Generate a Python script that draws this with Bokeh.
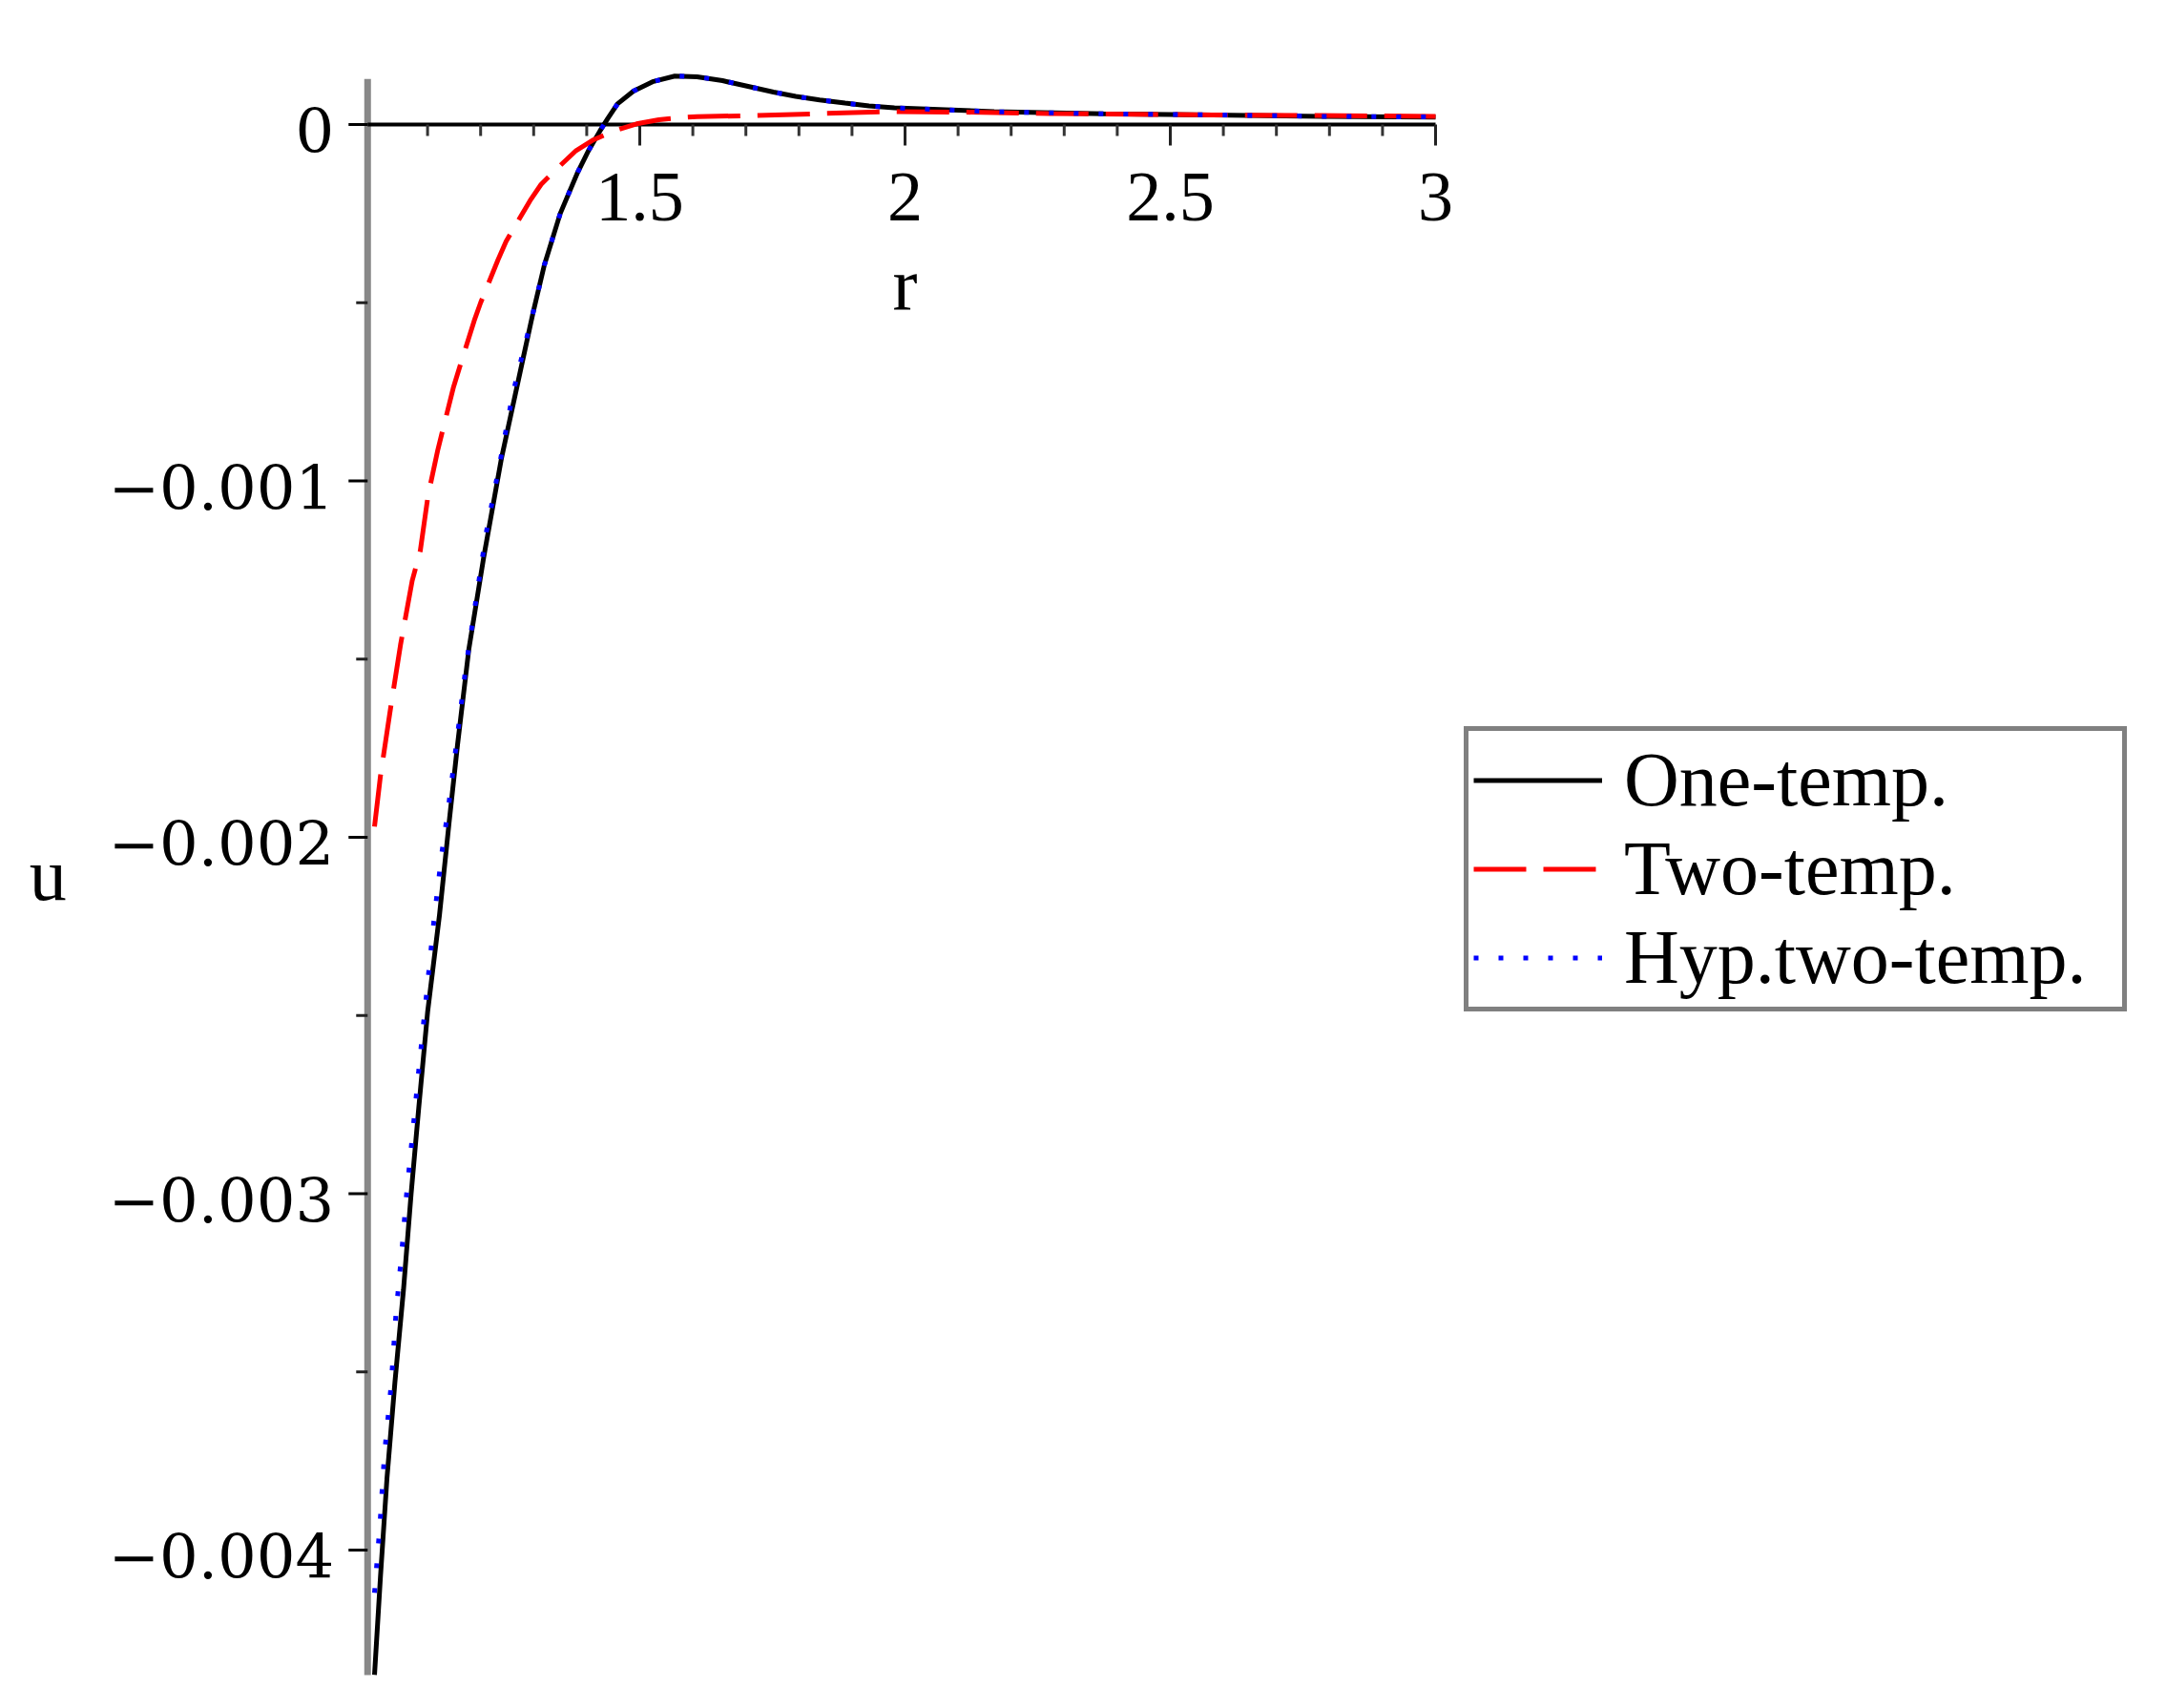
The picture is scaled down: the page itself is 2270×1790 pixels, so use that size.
from bokeh.plotting import figure
from bokeh.models import Range1d, Legend, LegendItem
from bokeh.core.properties import value
from bokeh.embed import file_html
from bokeh.resources import INLINE

# ---- data ----
r_one = [1.000, 1.0114, 1.0234, 1.0384, 1.0546, 1.0690, 1.0833, 1.1001, 1.1223,
         1.1405, 1.1565, 1.178, 1.2063, 1.2392, 1.2782, 1.299, 1.320, 1.350,
         1.383, 1.404, 1.425, 1.440, 1.458, 1.488, 1.524, 1.566, 1.608, 1.656,
         1.704, 1.752, 1.794, 1.839, 1.887, 1.932, 1.980, 2.168, 2.374, 2.580,
         2.786, 3.000]
u_one = [-0.00435, -0.00407, -0.00380, -0.00353, -0.00327, -0.00300, -0.00276,
         -0.00249, -0.00222, -0.00196, -0.00174, -0.00147, -0.00121, -0.000937,
         -0.000669, -0.000527, -0.000395, -0.000250, -0.000134, -0.0000714,
         -0.0000178, 0.0000178, 0.000058, 0.0000937, 0.000120, 0.000136,
         0.000134, 0.000123, 0.000107, 0.000091, 0.000079, 0.000069, 0.000060,
         0.000052, 0.000047, 0.000036, 0.000030, 0.000027, 0.000023, 0.000021]

r_two = [1.000, 1.011, 1.029, 1.049, 1.071, 1.0863, 1.101, 1.119, 1.128, 1.149,
         1.1613, 1.188, 1.200, 1.233, 1.248, 1.293, 1.314, 1.350, 1.380, 1.413,
         1.452, 1.494, 1.536, 1.580, 1.608, 1.715, 1.850, 1.960, 2.100, 2.270,
         2.580, 3.000]
u_two = [-0.00197, -0.00183, -0.00165, -0.00146, -0.00128, -0.001196,
         -0.00104, -0.000915, -0.000861, -0.000736, -0.000677, -0.00055,
         -0.000500, -0.000379, -0.000328, -0.000214, -0.000168, -0.000115,
         -0.000073, -0.0000428, -0.0000178, 0.0000018, 0.0000134, 0.0000196,
         0.0000223, 0.000025, 0.000031, 0.000036, 0.000035, 0.000031, 0.000027,
         0.000023]

r_hyp = [1.000, 1.0102, 1.0186, 1.0312, 1.0402, 1.0522, 1.0594, 1.0725, 1.0851,
         1.0983, 1.1115, 1.1265, 1.139, 1.1553, 1.1714, 1.1912, 1.211, 1.2362,
         1.2602, 1.2703, 1.299, 1.320, 1.350, 1.383, 1.404, 1.425, 1.440, 1.458,
         1.488, 1.524, 1.566, 1.608, 1.656, 1.704, 1.752, 1.794, 1.839, 1.887,
         1.932, 1.980, 2.168, 2.374, 2.580, 2.786, 3.000]
u_hyp = [-0.00412, -0.003929, -0.003733, -0.003539, -0.003342, -0.003149,
         -0.003017, -0.00282, -0.002628, -0.002436, -0.00224, -0.002048,
         -0.001919, -0.001727, -0.001531, -0.001334, -0.001142, -0.00095,
         -0.000759, -0.000696, -0.000527, -0.000395, -0.000250, -0.000134,
         -0.0000714, -0.0000178, 0.0000178, 0.000058, 0.0000937, 0.000120,
         0.000136, 0.000134, 0.000123, 0.000107, 0.000091, 0.000079, 0.000069,
         0.000060, 0.000052, 0.000047, 0.000036, 0.000030, 0.000027, 0.000023,
         0.000021]

series_names = ["One-temp.", "Two-temp.", "Hyp.two-temp."]

x_major = [1.5, 2.0, 2.5, 3.0]
x_minor = [1.1, 1.2, 1.3, 1.4, 1.6, 1.7, 1.8, 1.9, 2.1, 2.2, 2.3, 2.4,
           2.6, 2.7, 2.8, 2.9]
x_tick_labels = ["1.5", "2", "2.5", "3"]
y_major = [-0.004, -0.003, -0.002, -0.001, 0.0]
y_minor = [-0.0035, -0.0025, -0.0015, -0.0005]
y_tick_labels = ["\u22120.004", "\u22120.003", "\u22120.002", "\u22120.001", "0"]

# axis extents (data units)
X_AXIS_START, X_AXIS_END = 0.987, 3.0
Y_AXIS_BOT, Y_AXIS_TOP = -0.004351, 0.000128
AXIS_X = 0.987                              # the u axis crosses r here

# ---- layout (pixels) ----
W, H = 2250, 1770
BL, BT, BR, BB = 12, 8, 0, 8
PX_R = 556.0                          # pixels per unit r
PX_U = 373500.0                       # pixels per unit u
R1_PX = 392 - BL                      # frame x of r = 1
U0_PX = 130 - BT                      # frame y of u = 0
FW, FH = W - BL - BR, H - BT - BB
x_start = 1 - R1_PX / PX_R
x_end = x_start + FW / PX_R
y_end = U0_PX / PX_U
y_start = y_end - FH / PX_U

SERIF = "Liberation Serif"

p = figure(width=W, height=H, output_backend="svg", toolbar_location=None,
           x_range=Range1d(x_start, x_end), y_range=Range1d(y_start, y_end),
           min_border_left=BL, min_border_top=BT, min_border_bottom=BB,
           min_border_right=BR)
p.xaxis.visible = False
p.yaxis.visible = False
p.grid.visible = False
p.outline_line_color = None
p.background_fill_color = "white"

# ---- axes drawn by hand (Maple style, crossing at (1, 0)) ----
p.segment(x0=[AXIS_X], y0=[Y_AXIS_BOT], x1=[AXIS_X], y1=[Y_AXIS_TOP],
          line_color="#888888", line_width=7)
MAJ_Y, MIN_Y = 20, 12
p.segment(x0=[AXIS_X] * len(y_major), y0=y_major,
          x1=[AXIS_X - MAJ_Y / PX_R] * len(y_major), y1=y_major,
          line_color="black", line_width=3)
p.segment(x0=[AXIS_X] * len(y_minor), y0=y_minor,
          x1=[AXIS_X - MIN_Y / PX_R] * len(y_minor), y1=y_minor,
          line_color="#222222", line_width=3)
p.segment(x0=[X_AXIS_START], y0=[0], x1=[X_AXIS_END], y1=[0],
          line_color="black", line_width=4)
MAJ_X, MIN_X = 22, 12
p.segment(x0=x_major, y0=[0] * len(x_major), x1=x_major,
          y1=[-MAJ_X / PX_U] * len(x_major), line_color="#222222", line_width=3)
p.segment(x0=x_minor, y0=[0] * len(x_minor), x1=x_minor,
          y1=[-MIN_X / PX_U] * len(x_minor), line_color="#333333", line_width=3)

# tick labels
p.text(x=x_major, y=[0] * len(x_major), text=x_tick_labels,
       text_font=value(SERIF), text_font_size="74px", text_color="black",
       text_align="center", text_baseline="alphabetic", y_offset=76)
p.text(x=[AXIS_X] * len(y_major), y=y_major, text=y_tick_labels,
       text_font=value("DejaVu Serif"), text_font_size="64px", text_color="black",
       text_align="right", text_baseline="alphabetic", x_offset=-35, y_offset=6)
# axis labels
p.text(x=[(1.0 + X_AXIS_END) / 2], y=[0], text=["r"],
       text_font=value(SERIF), text_font_size="78px", text_color="black",
       text_align="center", text_baseline="alphabetic", y_offset=167)
p.text(x=[AXIS_X], y=[(Y_AXIS_BOT + Y_AXIS_TOP) / 2], text=["u"],
       text_font=value(SERIF), text_font_size="78px", text_color="black",
       text_align="center", text_baseline="alphabetic", x_offset=-335, y_offset=-3)

# ---- curves ----
l1 = p.line(r_one, u_one, line_color="black", line_width=5)
l2 = p.line(r_two, u_two, line_color="#ff0000", line_width=5, line_dash="55 18")
l3 = p.line(r_hyp, u_hyp, line_color="#0000ff", line_width=5, line_dash="5 21")

legend = Legend(items=[LegendItem(label=series_names[0], renderers=[l1]),
                       LegendItem(label=series_names[1], renderers=[l2]),
                       LegendItem(label=series_names[2], renderers=[l3])],
                location=(1534 - BL, (H - BB) - 1060), orientation="vertical")
legend.margin = 0
legend.padding = 5
legend.spacing = 0
legend.glyph_width = 135
legend.glyph_height = 93
legend.label_height = 93
legend.label_width = 517
legend.label_standoff = 23
legend.label_text_font = SERIF
legend.label_text_font_size = "80px"
legend.label_text_color = "black"
legend.border_line_color = "#808080"
legend.border_line_alpha = 1.0
legend.border_line_width = 5
legend.background_fill_color = "white"
legend.background_fill_alpha = 1.0
p.add_layout(legend)

open("out.html", "w").write(file_html(p, INLINE))
